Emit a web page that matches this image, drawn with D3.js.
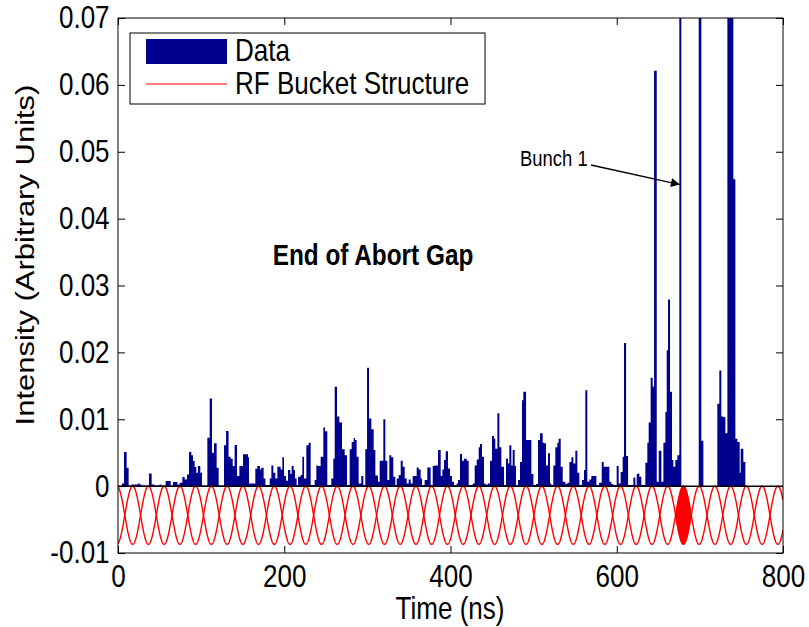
<!DOCTYPE html>
<html><head><meta charset="utf-8">
<script src="https://cdn.jsdelivr.net/npm/d3@7"></script>
<style>body{margin:0;background:#fff} svg{display:block} text{font-family:"Liberation Sans",Arial,Helvetica,sans-serif;fill:#000}</style>
</head><body>
<script>
// ---------- data ----------
const xTicks = [0, 200, 400, 600, 800];
const yTicks = [-0.01, 0, 0.01, 0.02, 0.03, 0.04, 0.05, 0.06, 0.07];
// step histogram: start time of each step (ns) and its intensity (x 1e-3, arbitrary units)
const stepTimeNs = [0,4.8,7.2,10.4,12.8,16,24,26,28,37.3,40.5,44,50,52,57.3,63.4,66.2,71.4,74.2,77.4,80.2,83,85.4,88.2,90.2,92.2,94.2,96.2,99,101,107.5,110.3,113.1,115.5,118.7,121.1,127.5,130,133,135.5,138,140.3,143.2,146,150.4,
156.4,157.6,165.2,167.6,170.8,172.4,175.2,177.3,182.5,184.5,186.9,189.3,191.7,195.7,197.7,199.7,202.1,204.5,207.3,208.9,211.3,212.9,214.9,216.6,219.8,221.8,223.8,226.6,229.4,231.8,236.6,238.6,240.6,243.8,247.0,249.0,251.8,256.6,259.0,260.7,263.5,266.3,269.5,272.7,275.5,278.7,281.1,283.5,285.1,287.1,289.5,292.7,295.1,297.5,299.6,302.0,304.8,307.6,309.6,
312.8,314.8,319.2,321.6,324.0,326.4,328.8,331.2,333.6,335.3,337.7,340.1,342.5,344.9,347.3,349.7,352.1,354.5,359.3,361.7,364.1,365.7,368.9,372.1,376.1,378.6,381.0,385.0,388.2,390.2,392.2,394.2,397.0,399.4,401.8,404.2,407.4,409.0,411.4,413.9,416.3,419.5,421.9,426.7,429.1,431.5,433.9,435.5,437.9,440.3,441.9,445.1,447.5,449.9,452.3,453.9,456.4,458.8,461.2,464.4,466.8,
469.2,470.8,473.2,474.8,477.2,478.8,481.2,483.6,486.0,487.6,490.9,497.3,499.7,502.9,505.3,507.7,510.9,512.5,514.9,517.3,519.7,521.3,523.7,526.1,528.5,530.1,532.6,535.0,538.2,540.6,543.0,545.4,547.8,550.2,552.6,555.0,558.2,560.6,562.2,564.6,567.0,569.4,575.5,578.7,581.9,584.3,591.1,593.5,595.9,599.9,602.3,604.7,607.1,608.7,611.2,613.6,620.0,622.4,624.0,
625.6,627.2,629.6,634.4,636.8,638.4,640.8,643.2,644.9,648.1,650.5,653.7,656.1,658.5,660.1,661.7,664.1,666.5,668.1,670.5,672.9,675.3,677.7,698.6,701.8,704.2,721.0,723.4,725.8,728.3,730.7,733.1,740.3,742.7,745.1,747.9,749.1,752.3,754.7];
const intensityE3 = [0.05,0.4,5.1,2.75,0.1,0.25,0.4,0.25,0.1,1.9,0.25,0.1,0.25,0.1,0.75,0.1,0.6,0.25,0.5,1.35,1.0,1.75,5.1,4.6,3.75,2.85,2.0,3.0,2.0,0.1,7.25,13.1,5.0,6.4,2.75,0.1,6.1,8.25,4.4,4.1,3.0,6.15,1.5,3.0,4.75,
4.3,0.4,2.6,3.0,2.5,2.75,1.15,0.15,1.15,3.1,2.0,1.15,2.9,2.5,4.3,1.5,0.8,2.4,1.8,3.0,2.4,1.15,0.15,1.4,1.65,4.4,1.15,6.1,6.5,0.15,0.9,3.1,3.0,4.4,8.75,8.2,0.15,1.15,4.1,14.85,10.4,9.5,5.5,4.6,0.15,5.5,6.6,7.2,6.9,4.4,0.4,1.5,0.15,5.5,17.7,10.1,8.5,5.4,1.6,
0.65,3.8,10.0,3.8,0.9,4.6,4.3,1.4,0.15,1.15,1.65,3.8,2.9,1.15,0.4,1.0,0.4,1.5,2.8,2.5,1.15,0.15,0.9,2.8,0.15,3.0,3.1,5.4,1.5,2.5,3.9,5.2,2.65,1.5,0.65,0.15,0.4,0.9,4.8,3.8,4.1,3.8,0.15,0.4,3.1,4.0,5.8,6.3,4.4,0.4,0.25,0.4,3.8,7.5,7.1,5.6,10.9,5.8,2.9,0.15,4.1,
3.4,6.1,3.1,5.4,3.0,0.15,0.9,3.6,12.85,14.1,6.9,1.8,0.15,0.3,6.9,7.9,6.5,6.4,3.1,4.9,0.4,0.15,3.1,5.8,6.5,7.1,2.9,0.65,0.3,0.5,3.6,4.3,3.4,5.3,2.0,0.15,0.9,2.4,14.35,0.65,1.0,1.5,0.15,0.5,3.6,2.9,0.65,0.3,0.15,3.0,0.4,2.1,4.4,21.4,4.5,0.15,1.3,0.15,1.8,
1.9,1.4,0.15,3.5,6.5,9.5,16.2,14.9,62.1,0.65,5.3,0.65,6.5,11.1,20.3,27.9,14.1,3.9,2.9,3.9,4.6,100,0,100,6.8,0,12.3,17.3,10.4,10.3,7.9,100,45.9,7.1,6.6,2.0,5.6,3.6,0];
const dataEndNs = 800;
// RF bucket structure parameters
const rfPeriodNs = 18.93, rfFirstCrossNs = 8.2, rfDepth = 0.0087, bunch1Bucket = 35;
const xLabel = "Time (ns)", yLabel = "Intensity (Arbitrary Units)";
const legendLabels = ["Data", "RF Bucket Structure"];
const gapLabel = "End of Abort Gap", bunchLabel = "Bunch 1";
const bunchArrowNs = 676, bunchArrowVal = 0.0451;

// ---------- drawing ----------
const W = 809, H = 627, SX = 0.84;
const barColor = "#00008f";
const svg = d3.select("body").append("svg").attr("width", W).attr("height", H);
const x = d3.scaleLinear().domain([0, 800]).range([118, 783]);
const y = d3.scaleLinear().domain([-0.01, 0.07]).range([553, 18]);

svg.append("defs").append("clipPath").attr("id", "plot")
  .append("rect").attr("x", x(0)).attr("y", y(0.07)).attr("width", x(800) - x(0)).attr("height", y(-0.01) - y(0.07));
const plot = svg.append("g").attr("clip-path", "url(#plot)");

// histogram
const pts = stepTimeNs.map((t, i) => [t, intensityE3[i] * 1e-3]);
pts.push([dataEndNs, 0]);
plot.append("path").datum(pts)
  .attr("d", d3.area().x(d => x(d[0])).y0(y(0)).y1(d => y(d[1])).curve(d3.curveStepAfter))
  .attr("fill", barColor);

// RF buckets
const tt = d3.range(0, 800.001, 0.2);
const rf = (t, s) => -rfDepth / 2 + s * rfDepth / 2 * Math.sin(Math.PI * (t - rfFirstCrossNs) / rfPeriodNs);
const ln = d3.line().x(d => x(d[0])).y(d => y(d[1]));
[1, -1].forEach(s => {
  plot.append("path").datum(tt.map(t => [t, rf(t, s)])).attr("d", ln)
    .attr("fill", "none").attr("stroke", "#ff0000").attr("stroke-width", 1.4);
});
const b0 = rfFirstCrossNs + bunch1Bucket * rfPeriodNs;
const bt = d3.range(b0, b0 + rfPeriodNs + 0.001, 0.2);
plot.append("path").datum(bt)
  .attr("d", d3.area().x(t => x(t)).y0(t => y(rf(t, 1))).y1(t => y(rf(t, -1))))
  .attr("fill", "#ff0000").attr("stroke", "#ff0000").attr("stroke-width", 1);

// zero baseline
plot.append("line").attr("x1", x(0)).attr("x2", x(800)).attr("y1", y(0)).attr("y2", y(0))
  .attr("stroke", "#000").attr("stroke-width", 1.5);

// axes
const fs = 31;
function styleAxis(g) { g.select(".domain").remove(); g.selectAll(".tick line").attr("stroke", "#000"); }
svg.append("g").attr("transform", `translate(0,${y(-0.01)})`)
  .call(d3.axisBottom(x).tickValues(xTicks).tickSizeInner(-7).tickSizeOuter(0).tickPadding(12))
  .call(styleAxis)
  .call(g => g.selectAll("text").attr("font-size", fs).attr("transform", `scale(${SX},1)`));
svg.append("g").attr("transform", `translate(0,${y(0.07)})`)
  .call(d3.axisTop(x).tickValues(xTicks).tickSizeInner(-7).tickSizeOuter(0).tickFormat(""))
  .call(styleAxis);
svg.append("g").attr("transform", `translate(${x(0)},0)`)
  .call(d3.axisLeft(y).tickValues(yTicks).tickSizeInner(-7).tickSizeOuter(0).tickPadding(10)
    .tickFormat(d => Math.abs(d) < 1e-9 ? "0" : d.toFixed(2)))
  .call(styleAxis)
  .call(g => g.selectAll("text").attr("font-size", fs).attr("transform", `scale(${SX},1)`));
svg.append("g").attr("transform", `translate(${x(800)},0)`)
  .call(d3.axisRight(y).tickValues(yTicks).tickSizeInner(-7).tickSizeOuter(0).tickFormat(""))
  .call(styleAxis);
svg.append("rect").attr("x", x(0)).attr("y", y(0.07)).attr("width", x(800) - x(0)).attr("height", y(-0.01) - y(0.07))
  .attr("fill", "none").attr("stroke", "#000").attr("stroke-width", 1);

function txt(str, tx, ty, size, opts = {}) {
  const t = svg.append("text").attr("transform", `translate(${tx},${ty}) scale(${SX},1)` + (opts.rot ? ` rotate(${opts.rot})` : ""))
    .attr("font-size", size).attr("text-anchor", opts.anchor || "start").text(str);
  if (opts.bold) t.attr("font-weight", "bold");
  return t;
}
txt(xLabel, 450, 619, fs, { anchor: "middle" });
txt(yLabel, 34, 255, fs, { anchor: "middle", rot: -90 });

// legend
svg.append("rect").attr("x", 130).attr("y", 33).attr("width", 355).attr("height", 71)
  .attr("fill", "#fff").attr("stroke", "#000").attr("stroke-width", 1);
svg.append("rect").attr("x", 146).attr("y", 39).attr("width", 81).attr("height", 25).attr("fill", barColor);
svg.append("line").attr("x1", 146).attr("x2", 227).attr("y1", 84).attr("y2", 84).attr("stroke", "#ff0000").attr("stroke-width", 1);
txt(legendLabels[0], 235, 61, fs);
txt(legendLabels[1], 235, 94, fs);

// annotations
txt(gapLabel, 373, 265, 29, { anchor: "middle", bold: true });
txt(bunchLabel, 520, 166, 22);
svg.append("defs").append("marker").attr("id", "arr").attr("viewBox", "0 0 10 10")
  .attr("refX", 10).attr("refY", 5).attr("markerWidth", 12).attr("markerHeight", 9)
  .attr("markerUnits", "userSpaceOnUse").attr("orient", "auto")
  .append("path").attr("d", "M0,0 L10,5 L0,10 z").attr("fill", "#000");
svg.append("line").attr("x1", 591).attr("y1", 165).attr("x2", x(bunchArrowNs)).attr("y2", y(bunchArrowVal))
  .attr("stroke", "#000").attr("stroke-width", 1.3).attr("marker-end", "url(#arr)");
</script>
</body></html>
